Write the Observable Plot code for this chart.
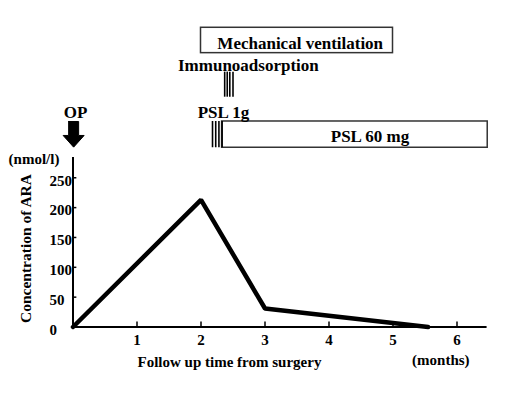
<!DOCTYPE html>
<html>
<head>
<meta charset="utf-8">
<script src="https://cdn.jsdelivr.net/npm/d3@7"></script>
<script src="https://cdn.jsdelivr.net/npm/@observablehq/plot@0.6"></script>
<style>
  html, body { margin: 0; padding: 0; background: #fff; }
</style>
</head>
<body>
<div id="chart"></div>
<script>
// ---- data ----
const months = [0, 2, 3, 5.55];
const ara = [0, 213, 31, 0];
const xTicks = [1, 2, 3, 4, 5, 6];
const yTicks = [0, 50, 100, 150, 200, 250];
const xLabel = "Follow up time from surgery";
const xUnit = "(months)";
const yLabel = "Concentration of ARA";
const yUnit = "(nmol/l)";

// treatment annotations (x in months, y in concentration units above the plot)
const boxes = [
  {name: "Mechanical ventilation", x1: 2.0, x2: 5.0, y1: 458.8, y2: 501.3},
  {name: "PSL 60 mg", x1: 2.33, x2: 6.48, y1: 300.3, y2: 344.3}
];
const pulseLines = [
  {name: "PSL 1g", xs: [2.18, 2.23, 2.28, 2.33], y1: 300.3, y2: 344.3},
  {name: "Immunoadsorption", xs: [2.37, 2.41, 2.45, 2.50], y1: 385, y2: 427}
];
const labels = [
  {text: "Mechanical ventilation", x: 3.55, y: 465.8},
  {text: "Immunoadsorption", x: 2.74, y: 428.6},
  {text: "OP", x: 0.04, y: 350.2},
  {text: "PSL 1g", x: 2.35, y: 350.2},
  {text: "PSL 60 mg", x: 4.64, y: 309.6}
];
const opArrow = {x: 0.01, top: 344.3, neck: 320.9, tip: 301.3, shaft: 0.078, head: 0.164};

// ---- derived tables ----
const series = months.map((m, i) => ({m, v: ara[i]}));
const pulses = pulseLines.flatMap(p => p.xs.map(x => ({x, y1: p.y1, y2: p.y2})));
const a = opArrow;
const arrowPoly = [
  [a.x - a.shaft, a.top], [a.x + a.shaft, a.top], [a.x + a.shaft, a.neck],
  [a.x + a.head, a.neck], [a.x, a.tip], [a.x - a.head, a.neck],
  [a.x - a.shaft, a.neck], [a.x - a.shaft, a.top]
];

const font = "'Liberation Serif', 'Times New Roman', serif";

const chart = Plot.plot({
  width: 520,
  height: 395,
  marginLeft: 72.5,
  marginRight: 31.5,
  marginTop: 0,
  marginBottom: 68.5,
  x: {domain: [0, 6.5]},
  y: {domain: [0, 547]},
  style: {fontFamily: font, fontWeight: "bold", background: "#fff", color: "#000", overflow: "visible"},
  marks: [
    // axes lines
    Plot.ruleY([0], {x1: 0, x2: 6.47, stroke: "#000", strokeWidth: 2}),
    Plot.ruleX([0], {y1: 0, y2: 284, stroke: "#000", strokeWidth: 2}),
    // inward tick marks
    Plot.ruleX(xTicks, {x: d => d, y1: 0, y2: 8.4, stroke: "#000", strokeWidth: 1.5}),
    Plot.ruleY(yTicks.filter(d => d > 0), {y: d => d, x1: 0, x2: 0.06, stroke: "#000", strokeWidth: 1.5}),
    // tick labels
    Plot.axisX(xTicks, {tickSize: 0, tickPadding: 7, fontSize: 15, label: null, fontWeight: "bold"}),
    Plot.axisY(yTicks, {tickSize: 0, tickPadding: 23.5, textAnchor: "start", dy: 3, fontSize: 15, label: null, fontWeight: "bold"}),
    // axis titles
    Plot.text([xLabel], {x: 2.445, y: -66.2, text: d => d, fontSize: 15, lineAnchor: "bottom", fill: "#000"}),
    Plot.text([xUnit], {x: 5.747, y: -64.5, text: d => d, fontSize: 15, lineAnchor: "bottom", fill: "#000"}),
    Plot.text([yLabel], {x: -0.727, y: 131.5, text: d => d, fontSize: 15.5, rotate: -90, fill: "#000"}),
    Plot.text([yUnit], {x: -0.609, y: 272.3, text: d => d, fontSize: 15, lineAnchor: "bottom", fill: "#000"}),
    // treatment boxes and pulses
    Plot.rect(boxes, {x1: "x1", x2: "x2", y1: "y1", y2: "y2", fill: "#fff", stroke: "#333", strokeWidth: 1.5}),
    Plot.ruleX(pulses, {x: "x", y1: "y1", y2: "y2", stroke: "#000", strokeWidth: 1.6}),
    Plot.line(arrowPoly, {x: d => d[0], y: d => d[1], fill: "#000", stroke: "#000", strokeWidth: 1}),
    Plot.text(labels, {x: "x", y: "y", text: "text", fontSize: 17, lineAnchor: "bottom", fill: "#000"}),
    // ARA concentration
    Plot.line(series, {x: "m", y: "v", stroke: "#000", strokeWidth: 4.5, strokeLinejoin: "miter"})
  ]
});
document.getElementById("chart").appendChild(chart);
</script>
</body>
</html>
